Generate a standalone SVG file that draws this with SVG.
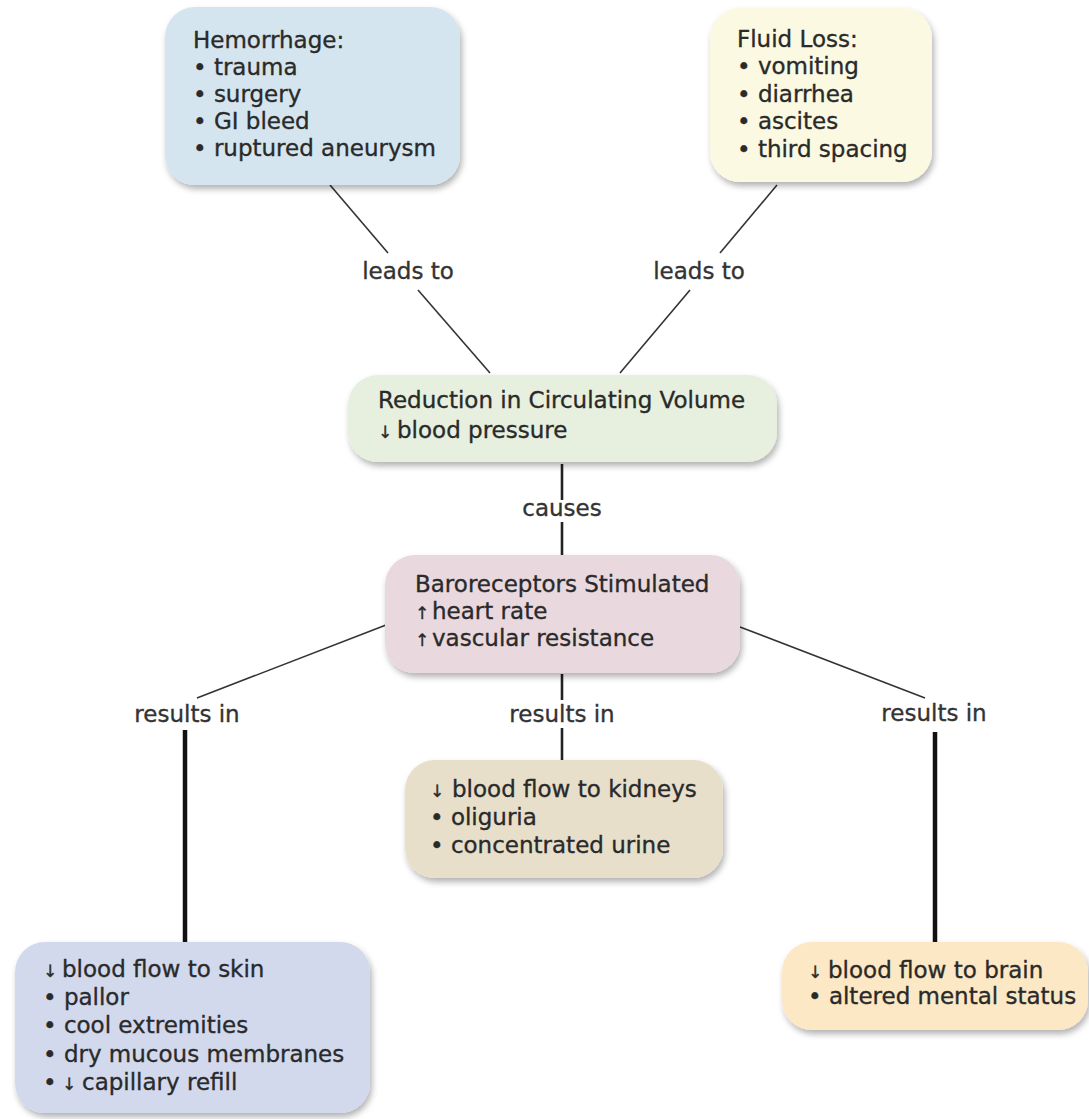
<svg xmlns="http://www.w3.org/2000/svg" width="1089" height="1119" viewBox="0 0 1089 1119">
<defs>
<filter id="sh" x="-10%" y="-10%" width="125%" height="135%">
<feDropShadow dx="2" dy="4" stdDeviation="3" flood-color="#000" flood-opacity="0.3"/>
</filter>
<style>
text{font-family:"DejaVu Sans","Liberation Sans",sans-serif;font-size:23px;fill:#2a2a2a;stroke:#2a2a2a;stroke-width:0.35}
.ar{font-size:17px}
.lbl{text-anchor:middle;fill:#333;stroke:#333}
.box{filter:url(#sh)}
.thin{stroke:#333;stroke-width:1.6;fill:none}
.mid{stroke:#222;stroke-width:2.6;fill:none}
.thick{stroke:#111;stroke-width:4.5;fill:none}
</style>
</defs>
<rect width="1089" height="1119" fill="#fff"/>
<g id="connectors">
<line class="thin" x1="330" y1="185" x2="388" y2="253"/>
<line class="thin" x1="418" y1="290" x2="490" y2="373"/>
<line class="thin" x1="777" y1="185" x2="720" y2="253"/>
<line class="thin" x1="690" y1="290" x2="620" y2="373"/>
<line class="mid" x1="562" y1="464" x2="562" y2="500"/>
<line class="mid" x1="562" y1="522" x2="562" y2="556"/>
<line class="thin" x1="386" y1="625" x2="197" y2="698"/>
<line class="thin" x1="740" y1="627" x2="925" y2="698"/>
<line class="mid" x1="562" y1="674" x2="562" y2="700"/>
<line class="mid" x1="562" y1="728" x2="562" y2="760"/>
<line class="thick" x1="185" y1="730" x2="185" y2="943"/>
<line class="thick" x1="935" y1="732" x2="935" y2="942"/>
<text class="lbl" x="408" y="279">leads to</text>
<text class="lbl" x="699" y="279">leads to</text>
<text class="lbl" x="562" y="516">causes</text>
<text class="lbl" x="187" y="722">results in</text>
<text class="lbl" x="562" y="722">results in</text>
<text class="lbl" x="934" y="721">results in</text>
</g>
<g id="hemorrhage">
<rect class="box" x="165" y="7" width="295" height="178" rx="30" fill="#d5e5ef"/>
<text x="193" y="48">Hemorrhage:</text>
<text x="193" y="75">• trauma</text>
<text x="193" y="102">• surgery</text>
<text x="193" y="129">• GI bleed</text>
<text x="193" y="156">• ruptured aneurysm</text>
</g>
<g id="fluid-loss">
<rect class="box" x="710" y="8" width="222" height="174" rx="30" fill="#fcf9e2"/>
<text x="737" y="47">Fluid Loss:</text>
<text x="737" y="74">• vomiting</text>
<text x="737" y="102">• diarrhea</text>
<text x="737" y="129">• ascites</text>
<text x="737" y="157">• third spacing</text>
</g>
<g id="reduction">
<rect class="box" x="348" y="375" width="429" height="87" rx="30" fill="#e7f0df"/>
<text x="378" y="408">Reduction in Circulating Volume</text>
<text x="378" y="438"><tspan class="ar">↓</tspan><tspan x="397">blood pressure</tspan></text>
</g>
<g id="baroreceptors">
<rect class="box" x="385" y="555" width="355" height="118" rx="30" fill="#e9d9df"/>
<text x="415" y="592">Baroreceptors Stimulated</text>
<text x="415" y="619"><tspan class="ar">↑</tspan><tspan x="432">heart rate</tspan></text>
<text x="415" y="646"><tspan class="ar">↑</tspan><tspan x="432">vascular resistance</tspan></text>
</g>
<g id="kidneys">
<rect class="box" x="405" y="760" width="318" height="118" rx="30" fill="#e8dfcb"/>
<text x="430" y="797"><tspan class="ar">↓</tspan><tspan x="452">blood flow to kidneys</tspan></text>
<text x="430" y="825">• oliguria</text>
<text x="430" y="853">• concentrated urine</text>
</g>
<g id="skin">
<rect class="box" x="15" y="942" width="355" height="171" rx="30" fill="#d3d9ed"/>
<text x="43" y="977"><tspan class="ar">↓</tspan><tspan x="62">blood flow to skin</tspan></text>
<text x="43" y="1005">• pallor</text>
<text x="43" y="1033">• cool extremities</text>
<text x="43" y="1062">• dry mucous membranes</text>
<text x="43" y="1090">• <tspan class="ar" x="62">↓</tspan><tspan x="82">capillary refill</tspan></text>
</g>
<g id="brain">
<rect class="box" x="782" y="942" width="306" height="88" rx="30" fill="#fce8c5"/>
<text x="808" y="978"><tspan class="ar">↓</tspan><tspan x="828">blood flow to brain</tspan></text>
<text x="808" y="1004">• altered mental status</text>
</g>
</svg>
